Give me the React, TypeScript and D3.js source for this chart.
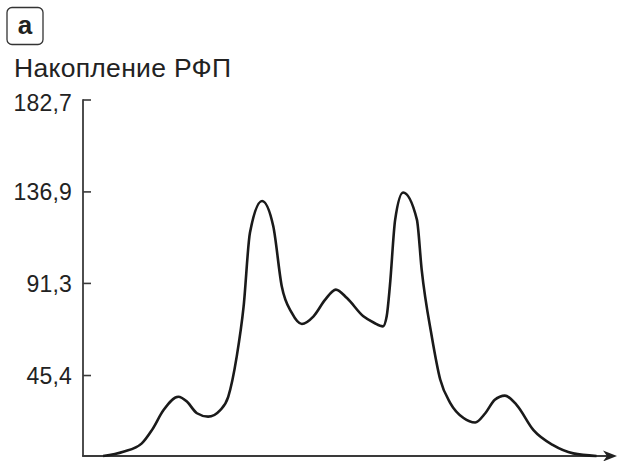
import React from "react";
import * as d3 from "d3";

const yTickValues = [182.7, 136.9, 91.3, 45.4];
const yTickLabels = ["182,7", "136,9", "91,3", "45,4"];
const yBase = 5.3;

const curveX = [3.8, 7.6, 11.1, 13.0, 15.2, 18.0, 19.6, 21.5, 23.6, 25.9, 27.4, 29.0, 30.3, 31.5, 33.8, 35.9, 37.5, 39.4, 41.3, 43.5, 45.7, 47.7, 49.8, 52.9, 54.9, 56.6, 57.3, 57.9, 58.9, 60.4, 63.0, 63.9, 65.8, 67.4, 69.3, 71.8, 74.0, 75.9, 77.7, 79.6, 81.8, 85.0, 88.7, 92.5, 96.9];
const curveY = [5.3, 7.4, 11.6, 18.2, 28.2, 34.8, 32.4, 26.6, 24.9, 28.2, 34.8, 54.8, 79.7, 116.5, 132.4, 119.8, 89.9, 76.6, 71.1, 74.9, 83.2, 88.2, 84.0, 74.9, 71.7, 69.9, 74.9, 89.9, 123.1, 136.6, 123.1, 98.2, 65.0, 43.4, 31.7, 24.2, 22.0, 26.6, 33.3, 35.4, 30.8, 18.2, 10.7, 6.6, 5.3];

const title = "Накопление РФП";
const panelLabel = "a";

export default function App() {
  const W = 620;
  const H = 461;
  const x = d3.scaleLinear().domain([0, 100]).range([83, 613]);
  const y = d3.scaleLinear().domain([yBase, 182.7]).range([456, 100]);
  const pts: [number, number][] = curveX.map((v, i) => [v, curveY[i]]);
  const line = d3
    .line<[number, number]>()
    .x((d) => x(d[0]))
    .y((d) => y(d[1]))
    .curve(d3.curveMonotoneX);
  const x0 = x(0);
  const yb = y(yBase);
  const axisColor = "#3a3a3a";
  const font = "'Liberation Sans', Arial, Helvetica, sans-serif";
  return (
    <svg
      width={W}
      height={H}
      style={{ position: "absolute", left: 0, top: 0, background: "#fff" }}
    >
      <rect x={7} y={7.5} width={36} height={37} rx={5} fill="none" stroke="#333" strokeWidth={1.3} />
      <text x={25} y={34} textAnchor="middle" fontFamily={font} fontWeight="bold" fontSize={26} fill="#222">
        {panelLabel}
      </text>
      <text x={14} y={77} fontFamily={font} fontSize={26.5} letterSpacing={0.3} fill="#222">
        {title}
      </text>
      {yTickValues.map((v, i) => (
        <g key={v}>
          <line x1={x0} x2={x0 + 8} y1={y(v)} y2={y(v)} stroke={axisColor} strokeWidth={1.6} />
          <text
            x={72}
            y={y(v) + (i === 0 ? 3 : 0)}
            dy="0.36em"
            textAnchor="end"
            fontFamily={font}
            fontSize={23}
            letterSpacing={0.2}
            fill="#222"
          >
            {yTickLabels[i]}
          </text>
        </g>
      ))}
      <line x1={x0} x2={x0} y1={y(182.7) - 0.8} y2={yb} stroke={axisColor} strokeWidth={1.8} />
      <line x1={x0 - 0.9} x2={608} y1={yb} y2={yb} stroke={axisColor} strokeWidth={1.8} />
      <path d={`M617,${yb} L603,${yb - 5.5} L607,${yb} L603,${yb + 5.5} Z`} fill="#222" />
      <path d={line(pts) || ""} fill="none" stroke="#1a1a1a" strokeWidth={2.6} strokeLinejoin="round" />
    </svg>
  );
}
